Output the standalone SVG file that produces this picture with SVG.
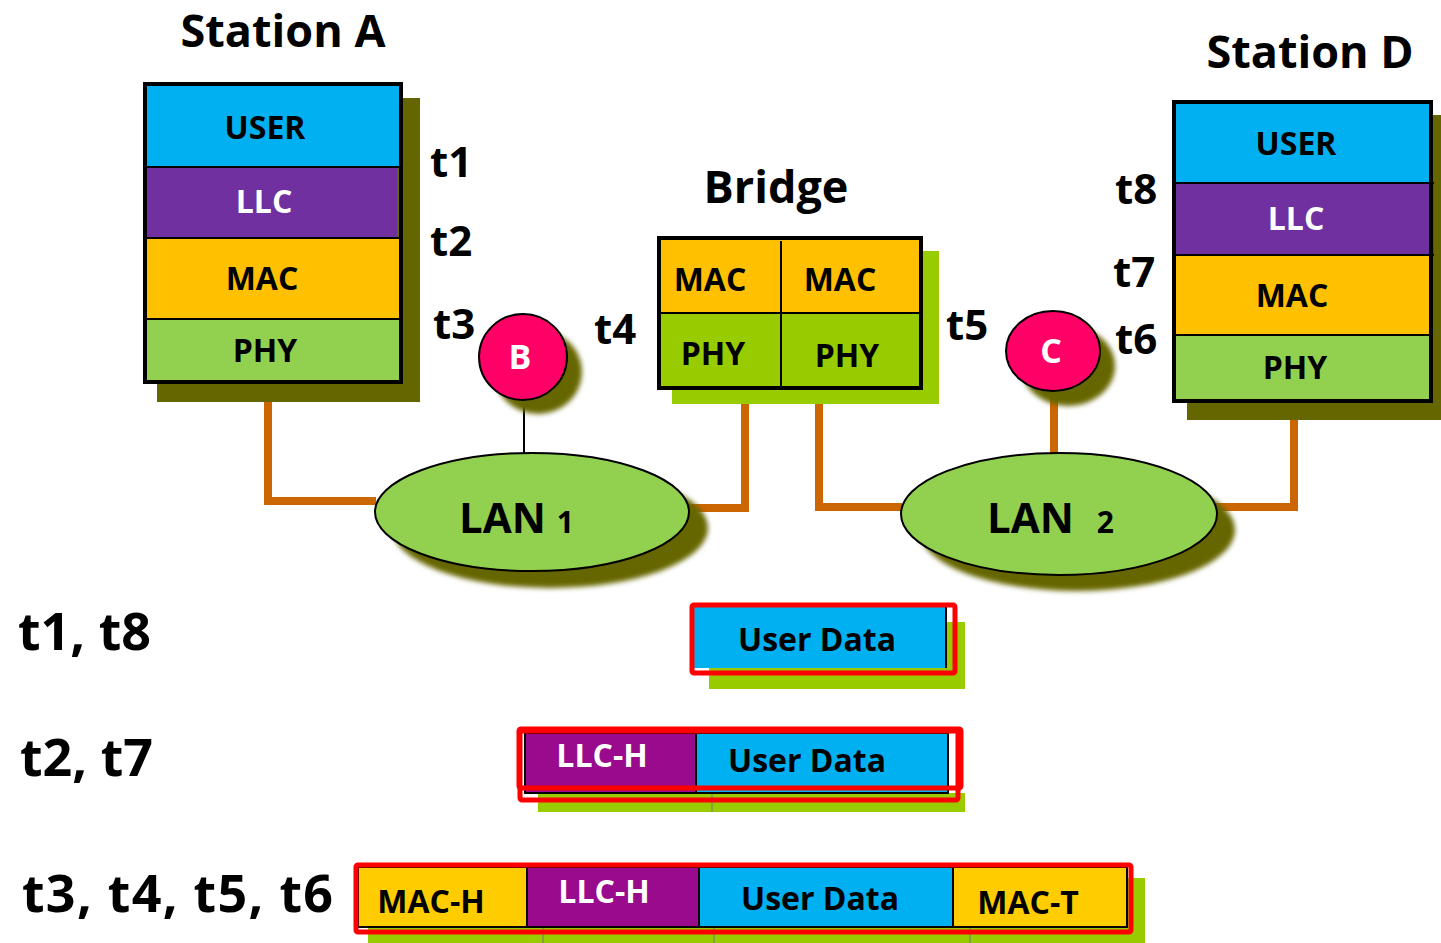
<svg xmlns="http://www.w3.org/2000/svg" width="1441" height="943" viewBox="0 0 1441 943">
<defs>
<filter id="blur" x="-20%" y="-20%" width="140%" height="140%"><feGaussianBlur stdDeviation="2.5"/></filter>
<style>
text{font-family:"Open Sans","Noto Sans","Liberation Sans",sans-serif;font-weight:bold;fill:#000}
.lbl{font-size:32px;text-anchor:middle}
.w{fill:#fff}
.t{font-size:42px}
.title{font-size:45px;text-anchor:middle}
.row{font-size:52px}
.pk{font-size:32px;text-anchor:middle}
.blk{stroke:#000;stroke-width:2}
.frame{fill:none;stroke:#000;stroke-width:4}
.red{fill:none;stroke:#ff0000;stroke-width:5}
.wire{fill:none;stroke:#cc6600;stroke-width:8}
.shadow{fill:#666600}
.gshadow{fill:#99cc00}
.user{fill:#00b0f0}
.llc{fill:#7030a0}
.mac{fill:#ffc000}
.phy{fill:#92d050}
.llch{fill:#990a8c}
</style>
</defs>

<g id="connectors">
<polyline class="wire" points="268,401 268,501 376,501"/>
<polyline class="wire" points="689,508 745,508 745,388"/>
<polyline class="wire" points="819,388 819,507 902,507"/>
<polyline class="wire" points="1216,507 1294,507 1294,402"/>
<line class="wire" x1="1054" y1="390" x2="1054" y2="454"/>
<line x1="524" y1="399" x2="524" y2="453" stroke="#000" stroke-width="2"/>
</g>

<g id="station-a">
<rect class="shadow" x="157" y="98" width="263" height="304"/>
<rect class="user" x="146" y="84" width="253" height="83"/>
<rect class="llc" x="146" y="167" width="251" height="71"/>
<rect class="mac" x="146" y="238" width="254" height="81"/>
<rect class="phy" x="146" y="319" width="254" height="63"/>
<line class="blk" x1="146" y1="167" x2="400" y2="167"/>
<line class="blk" x1="146" y1="238" x2="400" y2="238"/>
<line class="blk" x1="146" y1="319" x2="400" y2="319"/>
<rect class="frame" x="145" y="84" width="256" height="298"/>
<text class="lbl" x="265" y="139">USER</text>
<text class="lbl w" x="264" y="213">LLC</text>
<text class="lbl" x="262" y="290">MAC</text>
<text class="lbl" x="265" y="362">PHY</text>
<text class="title" x="283" y="47">Station A</text>
</g>

<g id="bridge">
<rect class="gshadow" x="672" y="251" width="267" height="153"/>
<rect class="mac" x="659" y="238" width="261" height="75"/>
<rect x="659" y="313" width="261" height="75" fill="#99cc00"/>
<line class="blk" x1="659" y1="313" x2="921" y2="313"/>
<line class="blk" x1="781" y1="241" x2="781" y2="389"/>
<rect class="frame" x="659" y="238" width="262" height="150"/>
<text class="lbl" x="710" y="291">MAC</text>
<text class="lbl" x="840" y="291">MAC</text>
<text class="lbl" x="713" y="365">PHY</text>
<text class="lbl" x="847" y="367">PHY</text>
<text class="title" x="776" y="203">Bridge</text>
</g>

<g id="station-d">
<rect class="shadow" x="1187" y="115" width="254" height="305"/>
<rect class="user" x="1174" y="102" width="256" height="81"/>
<rect class="llc" x="1174" y="183" width="260" height="72"/>
<rect class="mac" x="1174" y="255" width="257" height="80"/>
<rect class="phy" x="1174" y="335" width="256" height="65"/>
<line class="blk" x1="1174" y1="183" x2="1434" y2="183"/>
<line class="blk" x1="1174" y1="255" x2="1434" y2="255"/>
<line class="blk" x1="1174" y1="335" x2="1432" y2="335"/>
<rect class="frame" x="1174" y="102" width="257" height="299"/>
<text class="lbl" x="1296" y="155">USER</text>
<text class="lbl w" x="1296" y="230">LLC</text>
<text class="lbl" x="1292" y="307">MAC</text>
<text class="lbl" x="1295" y="379">PHY</text>
<text class="title" x="1310" y="68">Station D</text>
</g>

<g id="node-b">
<ellipse class="shadow" cx="538" cy="372" rx="44" ry="42" filter="url(#blur)"/>
<ellipse cx="523" cy="357" rx="44" ry="43" fill="#ff0066" stroke="#000" stroke-width="2"/>
<text class="w" x="520" y="369" font-size="34" text-anchor="middle">B</text>
</g>

<g id="node-c">
<ellipse class="shadow" cx="1068" cy="366" rx="47" ry="40" filter="url(#blur)"/>
<ellipse cx="1053" cy="351" rx="47" ry="40" fill="#ff0066" stroke="#000" stroke-width="2"/>
<text class="w" x="1051" y="363" font-size="34" text-anchor="middle">C</text>
</g>

<g id="lan-1">
<ellipse class="shadow" cx="550" cy="528" rx="158" ry="60" filter="url(#blur)"/>
<ellipse class="phy" cx="532" cy="512" rx="157" ry="59" stroke="#000" stroke-width="2"/>
<text x="459" y="533" font-size="42">LAN <tspan font-size="30">1</tspan></text>
</g>

<g id="lan-2">
<ellipse class="shadow" cx="1077" cy="530" rx="158" ry="61" filter="url(#blur)"/>
<ellipse class="phy" cx="1059" cy="514" rx="158" ry="61" stroke="#000" stroke-width="2"/>
<text x="987" y="533" font-size="42">LAN <tspan font-size="30" dx="12">2</tspan></text>
</g>

<g id="time-labels">
<text class="t" x="430" y="177">t1</text>
<text class="t" x="430" y="256">t2</text>
<text class="t" x="433" y="339">t3</text>
<text class="t" x="594" y="344">t4</text>
<text class="t" x="946" y="340">t5</text>
<text class="t" x="1115" y="354">t6</text>
<text class="t" x="1113" y="287">t7</text>
<text class="t" x="1115" y="204">t8</text>
<text class="row" x="18" y="650">t1, t8</text>
<text class="row" x="20" y="776">t2, t7</text>
<text class="row" x="22" y="912" textLength="311" lengthAdjust="spacing">t3, t4, t5, t6</text>
</g>

<g id="frame-1">
<rect class="gshadow" x="709" y="622" width="256" height="67"/>
<rect class="user" x="693" y="605" width="254" height="63"/>
<line class="blk" x1="946" y1="605" x2="946" y2="668"/>
<rect class="red" x="692" y="605" width="263" height="68" rx="2"/>
<text class="pk" x="817" y="651">User Data</text>
</g>

<g id="frame-2">
<rect class="gshadow" x="538" y="793" width="427" height="19"/>
<line x1="712" y1="793" x2="712" y2="812" stroke="#777" stroke-width="1"/>
<rect class="llch" x="525" y="733" width="170" height="60"/>
<rect class="user" x="697" y="733" width="251" height="60"/>
<rect x="525" y="733" width="423" height="60" fill="none" class="blk"/>
<line class="blk" x1="696" y1="733" x2="696" y2="793"/>
<rect class="red" x="519" y="729" width="442" height="59" rx="2"/>
<rect class="red" x="520" y="731" width="438" height="69" rx="2"/>
<text class="pk w" x="602" y="767">LLC-H</text>
<text class="pk" x="807" y="772">User Data</text>
</g>

<g id="frame-3">
<rect class="gshadow" x="368" y="878" width="777" height="70"/>
<line x1="543" y1="927" x2="543" y2="943" stroke="#777" stroke-width="1"/>
<line x1="714" y1="927" x2="714" y2="943" stroke="#777" stroke-width="1"/>
<line x1="970" y1="927" x2="970" y2="943" stroke="#777" stroke-width="1"/>
<rect fill="#ffcc00" x="358" y="867" width="169" height="60"/>
<rect class="llch" x="527" y="867" width="172" height="60"/>
<rect class="user" x="699" y="867" width="254" height="60"/>
<rect fill="#ffcc00" x="953" y="867" width="174" height="60"/>
<rect x="358" y="867" width="769" height="60" fill="none" class="blk"/>
<line class="blk" x1="527" y1="867" x2="527" y2="927"/>
<line class="blk" x1="699" y1="867" x2="699" y2="927"/>
<line class="blk" x1="953" y1="867" x2="953" y2="927"/>
<rect class="red" x="356" y="865" width="775" height="67" rx="2"/>
<text class="pk" x="431" y="913">MAC-H</text>
<text class="pk w" x="604" y="903">LLC-H</text>
<text class="pk" x="820" y="910">User Data</text>
<text class="pk" x="1028" y="914">MAC-T</text>
</g>
</svg>
